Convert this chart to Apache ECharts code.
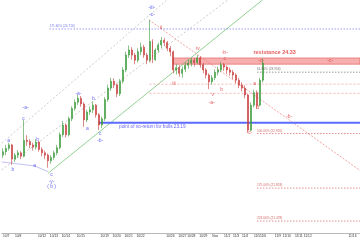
<!DOCTYPE html>
<html><head><meta charset="utf-8">
<script src="https://cdn.jsdelivr.net/npm/echarts@6/dist/echarts.min.js"></script>
<style>html,body{margin:0;padding:0;background:#fff}#c{width:360px;height:240px}</style>
</head><body><div id="c"></div>
<script>
const slotCount = 120;
const tickSlots = [1,5,13,17,21,26,34,38,42,46,50,56,60,63,67,71,75,78,81,85,87,92,95,99,102,113,117];
const tickTexts = ['10/7','10/8','10/12','10/13','10/14','10/15','10/19','10/20','10/21','10/22','','10/26','10/27','10/28','10/29','Nov','11/2','11/3','11/4','11/5','11/6','11/9','11/10','11/11','11/12','','11/16'];

const opens = [22.62,22.68,22.74,22.80,22.55,22.62,22.66,22.60,22.88,22.86, 22.80,22.76,22.85,22.72,22.66,22.62,22.52,22.58,22.66,22.75, 22.98,23.15,22.98,23.26,23.44,23.55,23.62,23.52,23.24,23.38, 23.42,23.50,23.33,23.15,23.26,23.60,23.80,23.92,23.86,23.70, 23.92,24.12,24.38,24.47,24.38,24.29,24.44,24.52,24.38,24.29, 24.62,24.30,24.47,24.56,24.64,24.60,24.50,24.44,24.12,24.16, 24.06,24.13,24.20,24.24,24.29,24.25,24.33,24.21,24.12,24.03, 23.91,23.98,24.08,24.12,24.21,24.17,24.12,24.08,24.03,23.94, 23.85,23.80,23.68,23.06,23.50,23.72,23.50,23.94];
const closes = [22.68,22.74,22.80,22.55,22.62,22.66,22.60,22.88,22.86,22.80, 22.76,22.85,22.72,22.66,22.62,22.52,22.58,22.66,22.75,22.98, 23.15,22.98,23.26,23.44,23.55,23.62,23.52,23.24,23.38,23.42, 23.50,23.33,23.15,23.26,23.60,23.80,23.92,23.86,23.70,23.92, 24.12,24.38,24.47,24.38,24.29,24.44,24.52,24.38,24.29,24.62, 24.30,24.47,24.56,24.64,24.60,24.50,24.44,24.12,24.16,24.06, 24.13,24.20,24.24,24.29,24.25,24.33,24.21,24.12,24.03,23.91, 23.98,24.08,24.12,24.21,24.17,24.12,24.08,24.03,23.94,23.85, 23.80,23.68,23.06,23.50,23.72,23.50,23.94,24.24];
const lows = [22.57,22.62,22.70,22.45,22.50,22.57,22.55,22.58,22.78,22.74, 22.70,22.72,22.68,22.60,22.55,22.40,22.47,22.54,22.62,22.72, 22.94,22.93,22.95,23.22,23.40,23.50,23.47,23.12,23.20,23.33, 23.36,23.28,23.06,23.10,23.22,23.56,23.75,23.80,23.64,23.66, 23.88,24.08,24.33,24.30,24.22,24.25,24.38,24.33,24.22,24.26, 24.24,24.28,24.42,24.50,24.54,24.45,24.36,24.06,24.04,24.00, 23.98,24.08,24.14,24.18,24.18,24.22,24.16,24.06,23.97,23.78, 23.86,23.94,24.02,24.08,24.10,24.05,24.02,23.96,23.88,23.80, 23.74,23.62,23.02,23.04,23.46,23.44,23.48,23.90];
const highs = [22.74,22.80,22.84,22.82,22.66,22.71,22.69,23.24,22.97,22.90, 22.84,22.90,22.87,22.76,22.70,22.65,22.62,22.70,22.80,23.02, 23.22,23.18,23.30,23.48,23.60,23.68,23.66,23.55,23.42,23.48, 23.56,23.52,23.36,23.30,23.64,23.86,23.98,23.97,23.88,23.96, 24.17,24.44,24.55,24.52,24.42,24.50,24.60,24.56,24.42,25.00, 24.66,24.50,24.60,24.70,24.68,24.63,24.54,24.46,24.22,24.20, 24.18,24.25,24.30,24.33,24.33,24.38,24.36,24.24,24.15,24.06, 24.03,24.13,24.18,24.26,24.24,24.20,24.16,24.12,24.06,23.98, 23.90,23.85,23.70,23.55,23.77,23.76,23.98,24.32];

const resistance = 24.33, resistanceLow = 24.22, noReturn = 23.19;

const blueLabels = [[1.8,22.87,'a'],[3.2,22.36,'b'],[7.5,23.45,'-a-'],[6.8,23.27,'c'],[11.5,22.89,'b'],[10.5,22.43,'a'],[16.2,22.27,'c'],[16.2,22.16,'-y-'],[16.2,22.06,'( b )'],[25.2,23.71,'-a-'],[30.2,23.61,'b'],[28.2,23.08,'a'],[32.5,22.99,'c'],[32.5,22.87,'-b-'],[49.8,25.21,'-iii-'],[49.8,25.09,'-c-']];
const redLabels = [[49.2,24.26,'i'],[52.8,24.86,'ii'],[57.2,23.87,'iii'],[65.2,24.49,'iv'],[70.2,23.68,'v'],[69.8,23.55,'-a-'],[73.2,23.78,'b'],[74.2,24.42,'-b-'],[74.2,24.31,'c'],[86.4,24.28,'-c-'],[82.5,23.02,'-c-'],[84.2,23.88,'a'],[85.2,23.45,'B'],[95.8,23.29,'-b-'],[109.5,24.28,'-c-']];
const fibLines = [[15.5,24.84,'171.60% (24.716)','#5555ee'],[85,24.08,'61.80% (23.956)','#555'],[85,23.00,'100.00% (22.955)','#c44'],[85,22.04,'175.00% (21.853)','#c44'],[85,21.46,'223.60% (21.478)','#c44']];

const chart = echarts.init(document.getElementById('c'));
const cats = Array.from({length: slotCount}, (_, i) => { const k = tickSlots.indexOf(i); return k >= 0 ? (tickTexts[k] || ' ') : ''; });
const showTick = (i) => tickSlots.indexOf(i) >= 0;
const FONT = 'Liberation Sans';

function line(points, color, width, type, opacity) {
  return { type: 'line', xAxisIndex: 1, yAxisIndex: 0, data: points, symbol: 'none', silent: true,
    lineStyle: { color, width, type: type || 'solid', opacity: opacity == null ? 1 : opacity }, z: 1 };
}
function labels(arr, color, size, weight) {
  return { type: 'scatter', xAxisIndex: 1, yAxisIndex: 0, symbolSize: 0, silent: true, z: 5,
    data: arr.map(a => [a[0], a[1], a[2]]),
    label: { show: true, position: 'inside', formatter: p => p.data[2], color, fontSize: size, fontFamily: FONT, fontWeight: weight || 'normal' } };
}

const series = [
  line([[-0.5,22.83],[54.8,25.35]], '#aaa', 0.6, [2,2]),
  line([[-0.5,22.36],[75.2,25.35]], '#aaa', 0.6, [2,2]),
  line([[-0.5,22.50],[10.5,22.43],[15,22.33]], '#9999ee', 0.6),
  line([[15,22.30],[86.8,25.35]], '#66bb66', 0.7),
  line([[48.8,25.00],[119.5,22.35]], '#e66', 0.6, [2,1.5]),
  line([[49,23.87],[119.5,23.87]], '#f08a8a', 0.6, [2,2]),
  line([[49,23.71],[119.5,23.71]], '#f08a8a', 0.6, [2,2]),
  line([[32,noReturn],[119.5,noReturn]], '#5b6bff', 2),
];
fibLines.forEach(f => series.push(line([[f[0],f[1]],[119.5,f[1]]], f[3], 0.6, [1.5,1.5])));
series.push({
  type: 'candlestick', xAxisIndex: 0, yAxisIndex: 0, z: 3,
  data: opens.map((o, i) => [o, closes[i], lows[i], highs[i]]),
  barMaxWidth: 2,
  itemStyle: { color: '#3d9b3d', color0: '#c83c3c', borderColor: '#3d9b3d', borderColor0: '#c83c3c', borderWidth: 0.6 }
});
series.push({ type: 'line', xAxisIndex: 1, data: [], symbol: 'none', silent: true,
  markArea: { silent: true, itemStyle: { color: 'rgba(242,120,120,0.6)', borderColor: '#e05555', borderWidth: 0.6 },
    data: [[{ coord: [57, resistance] }, { coord: [119.5, resistanceLow] }]] } });
series.push(labels(blueLabels, '#3c3cf0', 5));
series.push(labels(redLabels, '#e03535', 5));
series.push({ type: 'scatter', xAxisIndex: 1, symbolSize: 0, silent: true, z: 5,
  data: fibLines.map(f => ({ value: [f[0], f[1] + 0.045], name: f[2],
    label: { show: true, position: 'right', distance: 0, formatter: f[2], color: f[3], fontSize: 3.2, fontFamily: FONT } })) });
series.push({ type: 'scatter', xAxisIndex: 1, symbolSize: 0, silent: true, z: 5,
  data: [[38.8, noReturn - 0.07, 'point of no-return for bulls ' + noReturn.toFixed(2)]],
  label: { show: true, position: 'right', distance: 0, formatter: p => p.data[2], color: '#3c3cf0', fontSize: 4.7, fontFamily: FONT } });
series.push({ type: 'scatter', xAxisIndex: 1, symbolSize: 0, silent: true, z: 5,
  data: [[83.8, 24.43, 'resistance ' + resistance.toFixed(2)]],
  label: { show: true, position: 'right', distance: 0, formatter: p => p.data[2], color: '#e03535', fontSize: 5.5, fontWeight: 'bold', fontFamily: FONT } });

chart.setOption({
  animation: false,
  backgroundColor: '#fff',
  grid: { left: 0, right: 0, top: 0, bottom: 7 },
  xAxis: [
    { type: 'category', data: cats, boundaryGap: true,
      axisLine: { lineStyle: { color: '#888', width: 0.6 } },
      axisTick: { interval: showTick, length: 2, alignWithLabel: true, lineStyle: { color: '#888', width: 0.6 } },
      axisLabel: { interval: showTick, fontSize: 3.3, color: '#333', margin: 2, fontFamily: FONT },
      splitLine: { show: false } },
    { type: 'value', min: -0.5, max: slotCount - 0.5, show: false }
  ],
  yAxis: { type: 'value', min: 21.25, max: 25.35, show: false, splitLine: { show: false } },
  series
});
</script></body></html>
